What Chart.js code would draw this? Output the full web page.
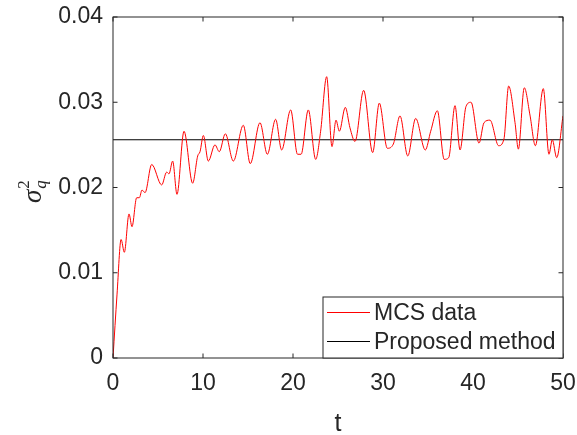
<!DOCTYPE html>
<html>
<head>
<meta charset="utf-8">
<script src="https://cdn.jsdelivr.net/npm/chart.js@4/dist/chart.umd.min.js"></script>
<style>
  html, body { margin: 0; padding: 0; background: #fff; }
  #wrap { width: 577px; height: 435px; }
</style>
</head>
<body>
<div id="wrap"><canvas id="varChart" width="577" height="435"></canvas></div>
<script>
// Monte Carlo variance samples over time
const tValues = [0, 0.45, 0.9, 1.26, 1.78, 2.11, 2.63, 2.93, 3.22, 3.56, 4.3, 5.41, 5.96, 6.22, 6.63, 7.11,
  7.89, 8.85, 9.41, 9.67, 10.04, 10.59, 11.33, 11.81, 12.48, 13.37, 14.48, 15.25, 16.33, 17.15,
  18.07, 18.74, 19.74, 20.5, 20.9, 21.7, 22.52, 23.07, 23.74, 24.33, 24.78, 25.15, 25.81, 26.33,
  26.89, 27.85, 28.85, 29.59, 30.48, 31.15, 31.89, 32.75, 33.63, 34.7, 35.3, 36.04, 36.8, 37.3,
  38.0, 38.56, 39.22, 39.78, 40.67, 41.22, 41.89, 42.85, 43.44, 43.96, 44.67, 45.04, 45.7, 46.33,
  46.93, 47.81, 48.44, 48.81, 49.3, 50];
const mcsValues = [0, 0.0075, 0.0139, 0.0124, 0.0169, 0.0154, 0.0188, 0.0188, 0.0197, 0.0194, 0.0227, 0.0203,
  0.0218, 0.0216, 0.0231, 0.0192, 0.0266, 0.0205, 0.0237, 0.0242, 0.0261, 0.0231, 0.0250, 0.0242,
  0.0263, 0.0231, 0.0273, 0.0228, 0.0276, 0.0239, 0.0280, 0.0244, 0.0291, 0.0239, 0.0239, 0.0291,
  0.0233, 0.0266, 0.0330, 0.0248, 0.0279, 0.0266, 0.0294, 0.0270, 0.0254, 0.0314, 0.0241, 0.0299,
  0.0246, 0.0251, 0.0284, 0.0237, 0.0281, 0.0244, 0.0266, 0.0290, 0.0233, 0.0235, 0.0296, 0.0244,
  0.0295, 0.0300, 0.0252, 0.0276, 0.0279, 0.0249, 0.0257, 0.0319, 0.0276, 0.0245, 0.0317, 0.0285,
  0.0249, 0.0316, 0.0239, 0.0256, 0.0235, 0.0284];

// Steady-state variance from the proposed method
const proposedValue = 0.0256;
const tRange = [0, 50];

const xTicks = [0, 10, 20, 30, 40, 50];
const yTicks = [0, 0.01, 0.02, 0.03, 0.04];
const seriesLabels = ['MCS data', 'Proposed method'];

const FONT = '"Liberation Sans", Arial, sans-serif';
const TEXT_COLOR = '#262626';
const AXIS_COLOR = '#262626';

// Box around the plot with inward ticks on all four sides
const axesBox = {
  id: 'axesBox',
  afterDatasetsDraw(chart) {
    const { ctx, chartArea: a, scales } = chart;
    ctx.save();
    ctx.strokeStyle = AXIS_COLOR;
    ctx.lineWidth = 1;
    ctx.strokeRect(a.left, a.top, a.right - a.left, a.bottom - a.top);
    const len = 4.5;
    ctx.beginPath();
    xTicks.forEach(v => {
      const x = scales.x.getPixelForValue(v);
      ctx.moveTo(x, a.bottom); ctx.lineTo(x, a.bottom - len);
      ctx.moveTo(x, a.top); ctx.lineTo(x, a.top + len);
    });
    yTicks.forEach(v => {
      const y = scales.y.getPixelForValue(v);
      ctx.moveTo(a.left, y); ctx.lineTo(a.left + len, y);
      ctx.moveTo(a.right, y); ctx.lineTo(a.right - len, y);
    });
    ctx.stroke();
    ctx.restore();
  }
};

// Legend box in the lower right corner
const cornerLegend = {
  id: 'cornerLegend',
  afterDraw(chart) {
    const { ctx, chartArea: a } = chart;
    const left = 323, top = 297;
    ctx.save();
    ctx.fillStyle = '#fff';
    ctx.fillRect(left, top, a.right - left, a.bottom - top);
    ctx.strokeStyle = AXIS_COLOR;
    ctx.lineWidth = 1;
    ctx.strokeRect(left, top, a.right - left, a.bottom - top);
    ctx.font = '23px ' + FONT;
    ctx.textBaseline = 'middle';
    ctx.textAlign = 'left';
    const rows = [312.5, 341.5];
    chart.data.datasets.forEach((ds, i) => {
      ctx.strokeStyle = ds.borderColor;
      ctx.beginPath();
      ctx.moveTo(327, rows[i]); ctx.lineTo(370, rows[i]);
      ctx.stroke();
      ctx.fillStyle = TEXT_COLOR;
      ctx.fillText(ds.label, 374, rows[i] + 1);
    });
    ctx.restore();
  }
};

// Rotated y-axis label: sigma with subscript q and superscript 2
const yLabel = {
  id: 'yLabel',
  afterDraw(chart) {
    const { ctx } = chart;
    ctx.save();
    ctx.translate(41, 203);
    ctx.rotate(-Math.PI / 2);
    ctx.fillStyle = TEXT_COLOR;
    ctx.textBaseline = 'alphabetic';
    ctx.textAlign = 'left';
    ctx.font = 'italic 27px "Liberation Serif", "Times New Roman", serif';
    ctx.fillText('σ', 0, 0);
    const w = ctx.measureText('σ').width;
    ctx.font = '17px "Liberation Serif", "Times New Roman", serif';
    ctx.fillText('2', w + 1, -12);
    ctx.font = 'italic 17px "Liberation Serif", "Times New Roman", serif';
    ctx.fillText('q', w + 1, 5);
    ctx.restore();
  }
};

new Chart(document.getElementById('varChart'), {
  type: 'line',
  data: {
    datasets: [
      {
        label: seriesLabels[0],
        data: tValues.map((t, i) => ({ x: t, y: mcsValues[i] })),
        borderColor: '#ff0000',
        borderWidth: 1,
        pointRadius: 0,
        cubicInterpolationMode: 'monotone',
        fill: false
      },
      {
        label: seriesLabels[1],
        data: tRange.map(t => ({ x: t, y: proposedValue })),
        borderColor: '#000000',
        borderWidth: 1,
        pointRadius: 0,
        fill: false
      }
    ]
  },
  options: {
    responsive: false,
    animation: false,
    layout: { padding: { top: 17, right: 14, left: 0, bottom: 0 } },
    plugins: {
      legend: { display: false },
      tooltip: { enabled: false }
    },
    scales: {
      x: {
        type: 'linear',
        min: 0,
        max: 50,
        afterFit: s => { s.height = 77; s.paddingLeft = 0; s.paddingRight = 0; },
        afterBuildTicks: s => { s.ticks = xTicks.map(v => ({ value: v })); },
        grid: { display: false, drawTicks: false },
        border: { display: false },
        ticks: { color: TEXT_COLOR, font: { family: FONT, size: 23 }, padding: 12, maxRotation: 0 },
        title: { display: true, text: 't', color: TEXT_COLOR, font: { family: FONT, size: 25 }, padding: { top: 0, bottom: -4 } }
      },
      y: {
        min: 0,
        max: 0.04,
        afterFit: s => { s.width = 113; s.paddingTop = 0; s.paddingBottom = 0; },
        afterBuildTicks: s => { s.ticks = yTicks.map(v => ({ value: v })); },
        grid: { display: false, drawTicks: false },
        border: { display: false },
        ticks: {
          color: TEXT_COLOR,
          font: { family: FONT, size: 23 },
          padding: 10,
          callback: v => (v === 0 ? '0' : v.toFixed(2))
        }
      }
    }
  },
  plugins: [axesBox, cornerLegend, yLabel]
});
</script>
</body>
</html>
